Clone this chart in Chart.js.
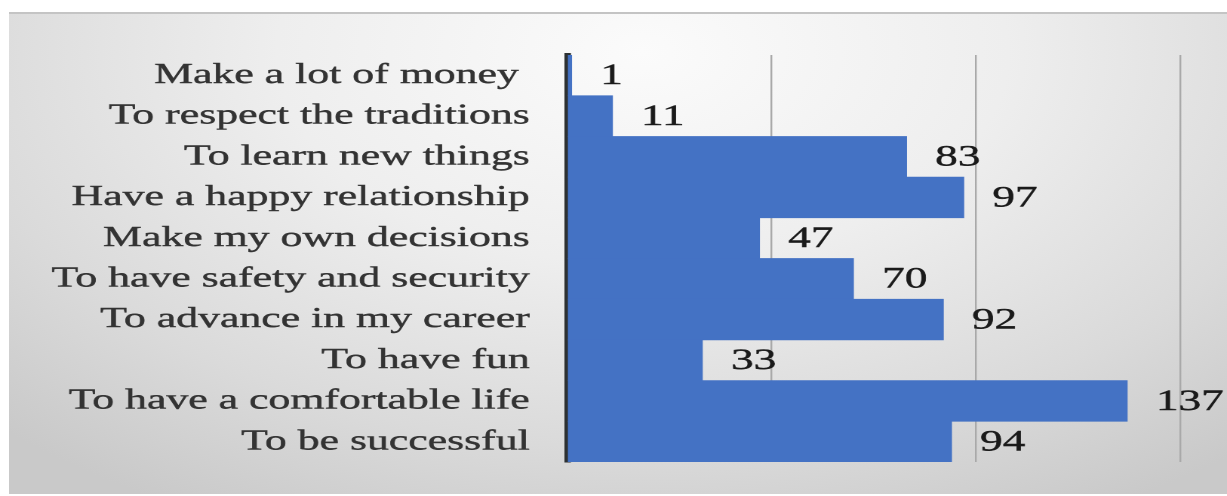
<!DOCTYPE html>
<html lang="en">
<head>
    <meta charset="UTF-8">
    <title>Life goals</title>
    <script src="https://cdn.jsdelivr.net/npm/chart.js"></script>
    <style>
        html, body {
            margin: 0;
            padding: 0;
            background: #ffffff;
            width: 1227px;
            height: 496px;
            overflow: hidden;
        }

        .panel {
            position: absolute;
            left: 9px;
            top: 12px;
            width: 1218px;
            height: 482px;
            border-top: 2px solid #c4c4c4;
            box-sizing: border-box;
            background: radial-gradient(ellipse 75% 110% at 52% 8%, #fbfbfb 0%, #eeeeee 40%, #dadada 75%, #c9c9c9 100%);
        }

        /* chart is drawn narrow and widened, the text is stretched the same way */
        .stretch {
            position: absolute;
            left: 0;
            top: 0;
            transform-origin: 0 0;
            transform: scaleX(1.5092);
        }
    </style>
</head>
<body>
    <div class="panel"></div>
    <div class="stretch">
        <canvas id="chart" width="813" height="496"></canvas>
    </div>

    <script>
        const categories = [
            'Make a lot of money ',
            'To respect the traditions',
            'To learn new things',
            'Have a happy relationship',
            'Make my own decisions',
            'To have safety and security',
            'To advance in my career',
            'To have fun',
            'To have a comfortable life',
            'To be successful'
        ];
        const values = [1, 11, 83, 97, 47, 70, 92, 33, 137, 94];
        const xTicks = [0, 50, 100, 150];

        const serif = '"Liberation Serif", "Times New Roman", serif';

        // numbers written just past the end of each bar
        const valueLabels = {
            id: 'valueLabels',
            afterDatasetsDraw(chart) {
                const ctx = chart.ctx;
                const meta = chart.getDatasetMeta(0);
                ctx.save();
                ctx.font = '30px ' + serif;
                ctx.fillStyle = '#1a1a1a';
                ctx.strokeStyle = '#1a1a1a';
                ctx.lineWidth = 0.4;
                ctx.textAlign = 'left';
                ctx.textBaseline = 'middle';
                meta.data.forEach((bar, i) => {
                    const x = Math.max(bar.x, chart.chartArea.left + 2) + 19;
                    ctx.strokeText(String(values[i]), x, bar.y + 1);
                    ctx.fillText(String(values[i]), x, bar.y + 1);
                });
                ctx.restore();
            }
        };

        new Chart(document.getElementById('chart'), {
            type: 'bar',
            data: {
                labels: categories,
                datasets: [{
                    data: values,
                    backgroundColor: '#4472c4',
                    borderWidth: 0,
                    barPercentage: 1,
                    categoryPercentage: 1
                }]
            },
            options: {
                indexAxis: 'y',
                responsive: false,
                animation: false,
                devicePixelRatio: 2,
                layout: {
                    padding: { left: 0, right: 31, top: 55, bottom: 34 }
                },
                plugins: {
                    legend: { display: false },
                    tooltip: { enabled: false }
                },
                scales: {
                    x: {
                        min: 0,
                        max: 150,
                        afterBuildTicks: scale => {
                            scale.ticks = xTicks.map(v => ({ value: v }));
                        },
                        afterFit: scale => {
                            scale.height = 0;
                            scale.paddingLeft = 0;
                            scale.paddingRight = 0;
                        },
                        ticks: { display: false },
                        grid: {
                            drawTicks: false,
                            lineWidth: 1.2,
                            color: c => c.tick && c.tick.value === 0 ? 'rgba(0,0,0,0)' : '#a9a9a9'
                        },
                        border: { display: false }
                    },
                    y: {
                        z: 1,
                        afterFit: scale => {
                            scale.width = 376;
                            scale.paddingTop = 0;
                            scale.paddingBottom = 0;
                        },
                        grid: { display: false, drawTicks: false },
                        border: { display: true, color: '#2d3132', width: 4.3 },
                        ticks: {
                            padding: 25,
                            color: '#333333',
                            textStrokeColor: '#333333',
                            textStrokeWidth: 0.4,
                            font: { family: serif, size: 29 }
                        }
                    }
                }
            },
            plugins: [valueLabels]
        });
    </script>
</body>
</html>
